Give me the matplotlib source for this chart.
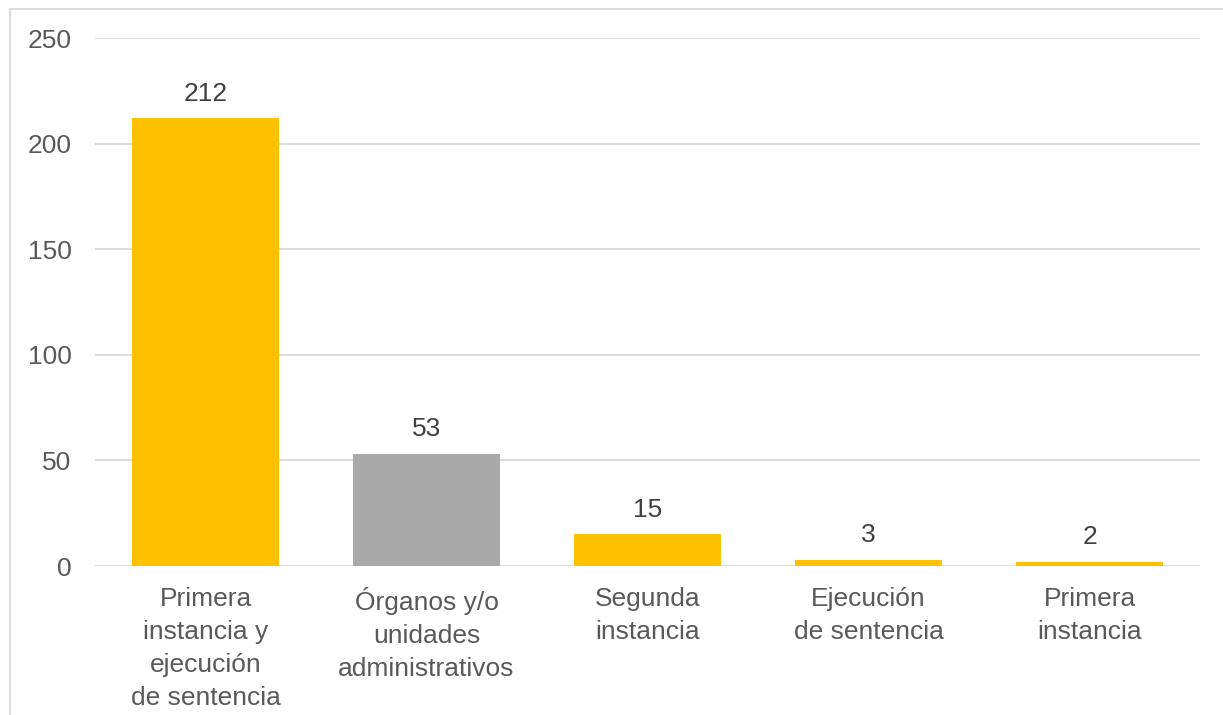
import matplotlib.pyplot as plt
from matplotlib.patches import Rectangle

categorias = ["Primera\ninstancia y\nejecución\nde sentencia",
              "Órganos y/o\nunidades\nadministrativos",
              "Segunda\ninstancia",
              "Ejecución\nde sentencia",
              "Primera\ninstancia"]
valores = [212, 53, 15, 3, 2]
colores = ["#FFC000", "#A9A9A9", "#FFC000", "#FFC000", "#FFC000"]
ticks_y = [0, 50, 100, 150, 200, 250]

plt.rcParams['font.family'] = ['Liberation Sans', 'DejaVu Sans']
texto = "#595959"

fig = plt.figure(figsize=(12.23, 7.15), dpi=100)
ax = fig.add_axes([95 / 1223, 1 - 566 / 715, 1105 / 1223, 528 / 715])

x = range(len(categorias))
barras = ax.bar(x, valores, width=0.665, color=colores, zorder=3)
for b, v in zip(barras, valores):
    ax.text(b.get_x() + b.get_width() / 2, v + 6, str(v), ha='center', va='bottom',
            fontsize=19, color="#404040")

ax.set_xlim(-0.5, len(categorias) - 0.5)
ax.set_ylim(0, 250)
ax.set_yticks(ticks_y)
ax.set_yticklabels([str(t) for t in ticks_y], fontsize=19, color=texto)
ax.set_xticks(list(x))
ax.set_xticklabels(categorias, fontsize=19, color=texto, linespacing=1.47)
ax.tick_params(axis='both', length=0)
ax.tick_params(axis='y', pad=17)
ax.tick_params(axis='x', pad=15)
ax.grid(axis='y', color="#D9D9D9", linewidth=1.3, zorder=0)
for s in ax.spines.values():
    s.set_visible(False)

# borde del area del grafico (recortado)
fig.patches.append(Rectangle((10 / 1223, -0.05), 1.1, 1 - 9 / 715 + 0.05,
                             transform=fig.transFigure, fill=False,
                             edgecolor="#D9D9D9", linewidth=1.3))

fig.savefig("out.png", dpi=100)
